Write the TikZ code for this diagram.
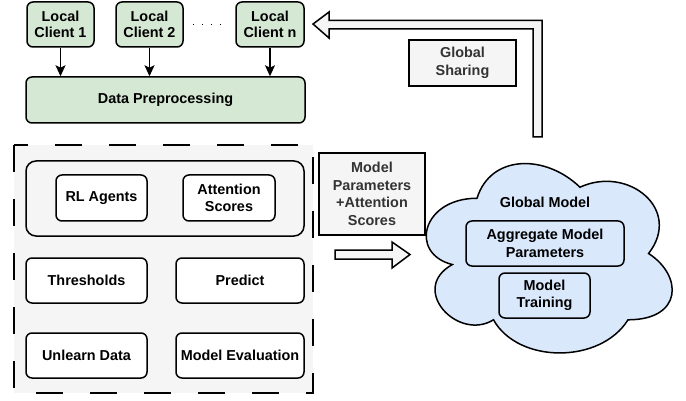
\documentclass[tikz,border=0pt]{standalone}
\usepackage{fontspec}
\setmainfont{Liberation Sans}
\usetikzlibrary{arrows.meta}

\definecolor{greenfill}{HTML}{D5E8D4}
\definecolor{bluefill}{HTML}{DAE8FC}
\definecolor{grayfill}{HTML}{F5F5F5}
\definecolor{notetext}{HTML}{333333}

\def\boxh{45pt}
\def\lw{1.5pt}

\begin{document}
\begin{tikzpicture}[
    x=1pt, y=-1pt,
    every node/.style={font=\bfseries\fontsize{14.4}{17.5}\selectfont, align=center, inner sep=0pt},
    box/.style={rectangle, rounded corners=6pt, draw=black, line width=\lw, fill=white, minimum height=\boxh},
    client/.style={box, fill=greenfill, minimum width=67pt, font=\bfseries\fontsize{14.4}{15.8}\selectfont},
    group/.style={rectangle, rounded corners=10pt, draw=black, line width=\lw, fill=grayfill},
    note/.style={rectangle, draw=black, line width=\lw, fill=grayfill, text=notetext},
    cloudbox/.style={box, fill=bluefill},
    flow/.style={-{Stealth[length=11pt,width=10pt,inset=2.5pt]}, line width=\lw},
    bigarrow/.style={draw=black, line width=\lw, fill=grayfill, line join=miter},
]
\useasboundingbox (0,0) rectangle (686,401);

%% Clients and preprocessing
\node[client] (c1) at (60.5,24.5) {Local\\Client 1};
\node[client] (c2) at (149.5,24.5) {Local\\Client 2};
\node[client, minimum width=68pt] (cn) at (270,24.5) {Local\\Client n};
\node[box, fill=greenfill, minimum width=279pt, minimum height=46pt] (pre) at (165.5,100) {Data Preprocessing};

% dots between client 2 and client n
\draw[line width=1.4pt, dash pattern=on 1.4pt off 7.6pt, shorten <=9pt, shorten >=8pt] (c2.east) -- (cn.west);

\draw[flow] (c1.south) -- (c1.south |- pre.north);
\draw[flow] (c2.south) -- (c2.south |- pre.north);
\draw[flow] (cn.south) -- (cn.south |- pre.north);

%% Local training region
\draw[line width=\lw, fill=grayfill, dash pattern=on 27pt off 27pt] (14,145) rectangle (313,393);
\node[group, minimum width=278pt, minimum height=75pt] (grp) at (165,198.5) {};
\node[box, minimum width=91pt, minimum height=46pt] (rl) at (101.5,198) {RL Agents};
\node[box, minimum width=92pt, minimum height=46pt] (att) at (229,198) {Attention\\Scores};
\node[box, minimum width=121pt] (thr) at (86.5,280.5) {Thresholds};
\node[box, minimum width=128pt] (pred) at (240,280.5) {Predict};
\node[box, minimum width=121pt] (unl) at (86.5,355.5) {Unlearn Data};
\node[box, minimum width=128pt] (eval) at (240,355.5) {Model Evaluation};

%% Labels of the exchanges
\node[note, minimum width=107pt, minimum height=46pt] (share) at (462.5,63) {Global\\Sharing};
\node[note, minimum width=106pt, minimum height=82pt] (param) at (372,194) {Model\\Parameters\\+Attention\\Scores};

% Global sharing arrow, back to the clients
\draw[bigarrow] (313,24) -- (329,12) -- (329,20.5) -- (542,20.5) -- (542,137)
    -- (533,137) -- (533,29) -- (329,29) -- (329,38) -- cycle;
% Upload arrow, towards the server
\draw[bigarrow] (335,250) -- (392,250) -- (392,242) -- (410,254.5)
    -- (392,268) -- (392,259) -- (335,259) -- cycle;

%% Global model (cloud)
\begin{scope}[shift={(408.4,143)}, x=274.5pt, y=-221pt]
    \draw[line width=\lw, fill=bluefill] (0.25,0.25)
        .. controls (0.05,0.25) and (0,0.5) .. (0.16,0.55)
        .. controls (0,0.66) and (0.18,0.9) .. (0.31,0.8)
        .. controls (0.4,1) and (0.7,1) .. (0.8,0.8)
        .. controls (1,0.8) and (1,0.6) .. (0.875,0.5)
        .. controls (1,0.3) and (0.8,0.1) .. (0.625,0.2)
        .. controls (0.5,0.05) and (0.3,0.05) .. (0.25,0.25) -- cycle;
\end{scope}
\node (gm) at (545,202) {Global Model};
\node[cloudbox, minimum width=158pt] (agg) at (545,243.5) {Aggregate Model\\Parameters};
\node[cloudbox, minimum width=91pt] (train) at (544.5,295.5) {Model\\Training};

\end{tikzpicture}
\end{document}
